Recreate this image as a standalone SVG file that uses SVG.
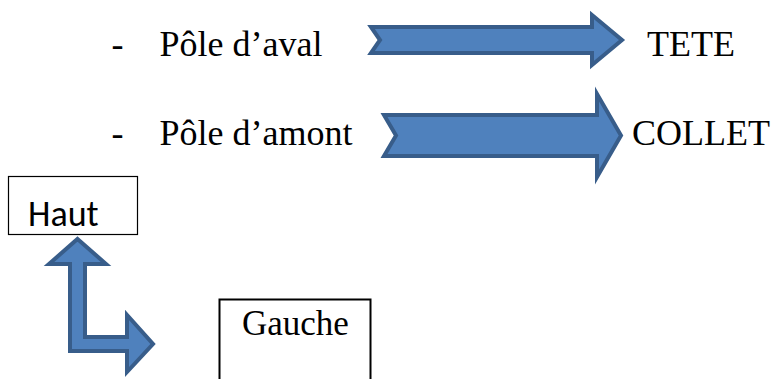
<svg xmlns="http://www.w3.org/2000/svg" width="776" height="379" viewBox="0 0 776 379">
<style>
.t{font-family:"Liberation Serif","Times New Roman",serif;font-size:36px;fill:#000}
.c{font-family:"Carlito","Liberation Sans",Arial,sans-serif;font-size:36px;fill:#000}
.arr{fill:#4f81bd;stroke:#385d8a;stroke-width:4;stroke-linejoin:miter}
.box{fill:#fff;stroke:#000}
</style>
<rect width="776" height="379" fill="#fff"/>
<g id="aval">
<text class="t" x="111.5" y="56">-</text>
<text class="t" x="159.5" y="56">Pôle d’aval</text>
</g>
<g id="tete"><text class="t" x="647" y="56">TETE</text></g>
<g id="amont">
<text class="t" x="111.5" y="145">-</text>
<text class="t" x="159.5" y="145">Pôle d’amont</text>
</g>
<g id="collet"><text class="t" x="632" y="145">COLLET</text></g>
<g id="haut">
<rect class="box" x="8.5" y="176.5" width="129" height="58" stroke-width="1.2"/>
<text class="c" x="28" y="226">Haut</text>
</g>
<g id="gauche">
<rect class="box" x="219.5" y="299.5" width="151" height="90" stroke-width="2"/>
<text class="t" x="242" y="335" style="font-size:35px">Gauche</text>
</g>
<g id="connectors">
<polygon class="arr" points="371,27 592,27 592,15 622,40 592,65 592,53 371,53 380,40"/>
<polygon class="arr" points="384,115 597,115 597,94 621,135.5 597,177 597,156 384,156 396,135.5"/>
<polygon class="arr" points="77.5,239 106,264 85,264 85,337 127,337 127,315 153,344 127,372 127,351 70,351 70,264 49,264"/>
</g>
</svg>
